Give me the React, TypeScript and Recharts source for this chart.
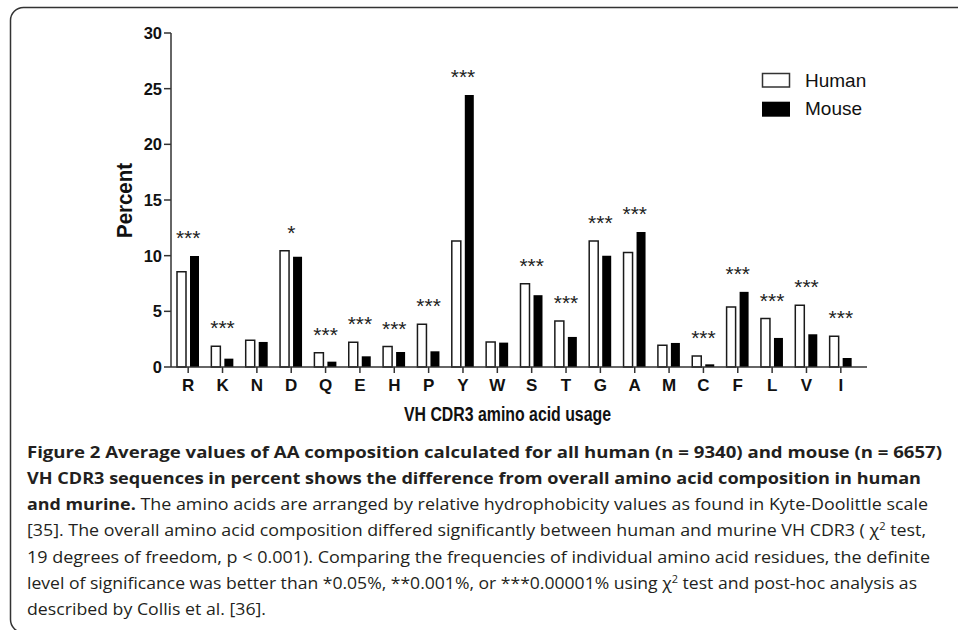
import React from 'react';
import { ComposedChart, Bar, Line, XAxis, YAxis, Legend, LabelList } from 'recharts';

const categories = ['R', 'K', 'N', 'D', 'Q', 'E', 'H', 'P', 'Y', 'W', 'S', 'T', 'G', 'A', 'M', 'C', 'F', 'L', 'V', 'I'];
const humanValues = [8.55, 1.86, 2.4, 10.44, 1.29, 2.22, 1.85, 3.84, 11.31, 2.25, 7.47, 4.14, 11.31, 10.29, 1.95, 0.99, 5.4, 4.35, 5.55, 2.76];
const mouseValues = [9.96, 0.75, 2.25, 9.9, 0.48, 0.96, 1.35, 1.41, 24.42, 2.19, 6.45, 2.7, 9.99, 12.12, 2.16, 0.24, 6.75, 2.61, 2.94, 0.81];
const significance = ['***', '***', '', '*', '***', '***', '***', '***', '***', '', '***', '***', '***', '***', '', '***', '***', '***', '***', '***'];
const yTicks = [0, 5, 10, 15, 20, 25, 30];
const seriesNames = ['Human', 'Mouse'];

const data = categories.map((aa, i) => ({
  aa,
  human: humanValues[i],
  mouse: mouseValues[i],
  top: Math.max(humanValues[i], mouseValues[i]),
  sig: significance[i],
}));

const captionLines = [
  { segs: [{ t: 'Figure 2 Average values of AA composition calculated for all human (n = 9340) and mouse (n = 6657)', b: true }], end: 942 },
  { segs: [{ t: 'VH CDR3 sequences in percent shows the difference from overall amino acid composition in human', b: true }], end: 921 },
  { segs: [{ t: 'and murine.', b: true }, { t: ' The amino acids are arranged by relative hydrophobicity values as found in Kyte-Doolittle scale' }], end: 928 },
  { segs: [{ t: '[35]. The overall amino acid composition differed significantly between human and murine VH CDR3 ( \u03c7' }, { t: '2', sup: true }, { t: ' test,' }], end: 926 },
  { segs: [{ t: '19 degrees of freedom, p < 0.001). Comparing the frequencies of individual amino acid residues, the definite' }], end: 930 },
  { segs: [{ t: 'level of significance was better than *0.05%, **0.001%, or ***0.00001% using \u03c7' }, { t: '2', sup: true }, { t: ' test and post-hoc analysis as' }], end: 917 },
  { segs: [{ t: 'described by Collis et al. [36].' }], end: 266 },
];

const AX = '#333';
const FONT = '"Liberation Sans", Arial, Helvetica, sans-serif';

const SigLabel = (props: any) => {
  const vb = props.viewBox || {};
  const x = props.x ?? vb.x;
  const y = props.y ?? vb.y;
  const value = props.value;
  if (!value || x == null || y == null) return null;
  return (
    <text x={x} y={y - 10.8} textAnchor="middle" fontSize={21} fontFamily={FONT} fill="#222">
      {value}
    </text>
  );
};

const LegendContent = (props: any) => {
  const items = (props.payload || []).filter((p: any) => p.type !== 'none');
  const names = items.length ? items.map((p: any) => p.value) : seriesNames;
  return (
    <svg width={140} height={60} style={{ display: 'block' }}>
      <rect x={2.5} y={7.5} width={27} height={13.5} fill="#fff" stroke={AX} strokeWidth={1.5} />
      <text x={45} y={21.3} fontSize={19} fontFamily={FONT} fill="#111">{names[0]}</text>
      <rect x={2} y={35.7} width={28} height={15} fill="#000" />
      <text x={45} y={49.3} fontSize={19} fontFamily={FONT} fill="#111">{names[1]}</text>
    </svg>
  );
};

export default function App() {
  return (
    <div style={{ position: 'absolute', left: 0, top: 0, width: 958, height: 630, background: '#fff', overflow: 'hidden' }}>
      <div style={{ position: 'absolute', left: 0, top: 0 }}>
        <ComposedChart
          width={958}
          height={630}
          data={data}
          margin={{ top: 33, right: 91, bottom: 0, left: 0 }}
          barSize={9}
          barGap={4}
        >
          <XAxis
            dataKey="aa"
            height={263}
            interval={0}
            padding={{ left: 0, right: 9 }}
            tickSize={6}
            tickMargin={6}
            stroke={AX}
            strokeWidth={1.5}
            tick={{ fontSize: 17, fontWeight: 'bold', fontFamily: FONT, fill: '#111' }}
          />
          <YAxis
            width={171}
            domain={[0, 30]}
            ticks={yTicks}
            interval={0}
            tickSize={7}
            tickMargin={2}
            stroke={AX}
            strokeWidth={1.5}
            tick={{ fontSize: 16.5, fontWeight: 'bold', fontFamily: FONT, fill: '#111' }}
          />
          <Legend
            layout="vertical"
            align="center"
            verticalAlign="middle"
            wrapperStyle={{ left: 760, top: 66, width: 140, height: 60 }}
            content={LegendContent}
          />
          <Bar dataKey="human" name={seriesNames[0]} fill="#fff" stroke="#1a1a1a" strokeWidth={1.5} isAnimationActive={false} />
          <Bar dataKey="mouse" name={seriesNames[1]} fill="#000" isAnimationActive={false} />
          <Line
            dataKey="top"
            stroke="none"
            dot={false}
            activeDot={false}
            legendType="none"
            isAnimationActive={false}
          >
            <LabelList dataKey="sig" content={SigLabel} />
          </Line>
        </ComposedChart>
      </div>
      <svg width={958} height={630} style={{ position: 'absolute', left: 0, top: 0, pointerEvents: 'none' }}>
        <rect x={10.5} y={7.5} width={1000} height={625} rx={13} ry={13} fill="none" stroke={AX} strokeWidth={1.5} />
        <text
          transform="translate(131.5 200.5) rotate(-90)"
          textAnchor="middle"
          fontSize={22}
          fontWeight="bold"
          fontFamily={FONT}
          fill="#111"
          textLength={75}
          lengthAdjust="spacingAndGlyphs"
        >
          Percent
        </text>
        <text
          x={404}
          y={420.5}
          fontSize={20}
          fontWeight="bold"
          fontFamily={FONT}
          fill="#111"
          textLength={207}
          lengthAdjust="spacingAndGlyphs"
        >
          VH CDR3 amino acid usage
        </text>
        {captionLines.map((line, i) => (
          <text
            key={i}
            x={27}
            y={457.5 + i * 26.3}
            fontSize={16}
            fontFamily='"Open Sans", "Noto Sans", sans-serif'
            fill="#231f20"
            textLength={line.end - 27}
            lengthAdjust="spacingAndGlyphs"
            style={{ whiteSpace: 'pre' }}
          >
            {line.segs.map((s: any, j: number) => {
              const prevSup = j > 0 && (line.segs[j - 1] as any).sup;
              return (
                <tspan
                  key={j}
                  fontWeight={s.b ? 'bold' : 'normal'}
                  fontSize={s.sup ? 10 : 16}
                  dy={s.sup ? -6 : prevSup ? 6 : 0}
                >
                  {s.t}
                </tspan>
              );
            })}
          </text>
        ))}
      </svg>
    </div>
  );
}
